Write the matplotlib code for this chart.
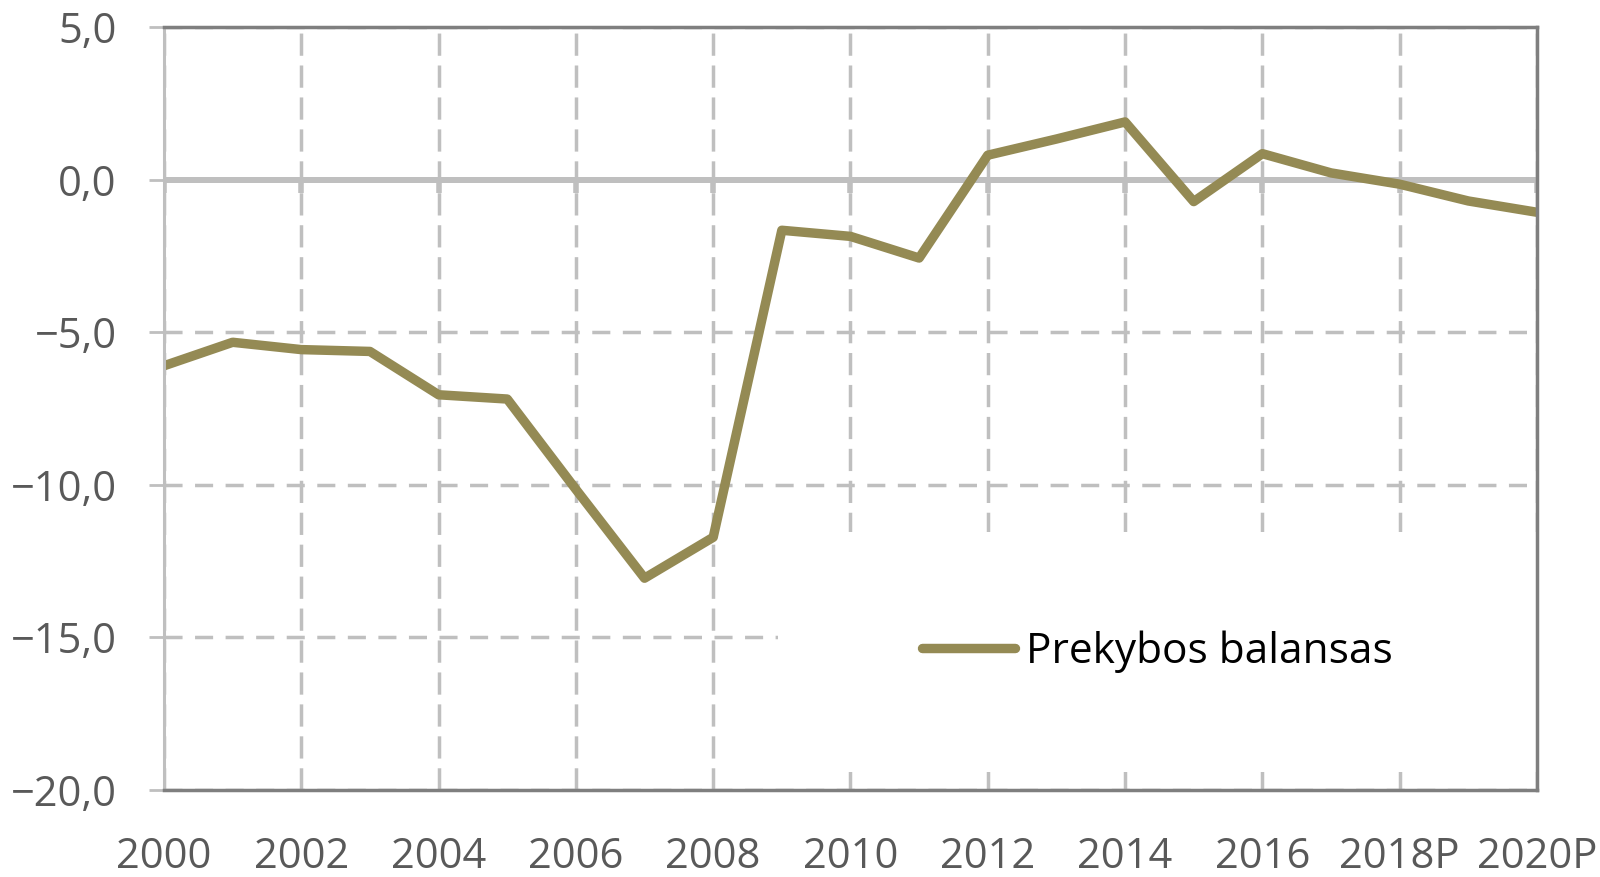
import matplotlib.pyplot as plt
from matplotlib.patches import Rectangle

years = ['2000', '2001', '2002', '2003', '2004', '2005', '2006', '2007', '2008', '2009', '2010',
         '2011', '2012', '2013', '2014', '2015', '2016', '2017', '2018P', '2019P', '2020P']
trade_balance = [-6.1, -5.33, -5.57, -5.63, -7.05, -7.19, -10.15, -13.06, -11.72, -1.66, -1.86,
                 -2.57, 0.80, 1.33, 1.89, -0.72, 0.85, 0.22, -0.15, -0.70, -1.07]
series_name = 'Prekybos balansas'
y_ticks = [-20, -15, -10, -5, 0, 5]

plt.rcParams['font.family'] = ['Open Sans', 'DejaVu Sans']
plt.rcParams['lines.scale_dashes'] = False

LINE = '#948A54'
GRID = '#BFBFBF'
BORDER = '#7F7F7F'
TEXT = '#595959'

fig = plt.figure(figsize=(16, 8.77), dpi=100)
ax = fig.add_axes([0.1025, 0.0992, 0.8581, 0.8700])

x = list(range(len(years)))
ax.plot(x, trade_balance, color=LINE, lw=6.8, solid_capstyle='round', zorder=4, label=series_name)

ax.set_xlim(0, len(years) - 1)
ax.set_ylim(y_ticks[0], y_ticks[-1])

# x ticks every two years, labels at the bottom
xt = x[::2]
ax.set_xticks(xt)
ax.set_xticklabels([years[i] for i in xt])
ax.tick_params(axis='x', length=0, pad=33, labelsize=30, labelcolor=TEXT)

ax.set_yticks(y_ticks)
ax.set_yticklabels([f'{v:.1f}'.replace('.', ',').replace('-', '\u2212') for v in y_ticks])
ax.tick_params(axis='y', length=11, width=2, color=GRID, pad=23, labelsize=30, labelcolor=TEXT)

# dashed grid
ax.grid(axis='x', color=GRID, lw=2.5, ls=(0, (16, 7)), zorder=1.5)
ax.grid(axis='y', color=GRID, lw=2.5, ls=(0, (13, 9)), zorder=1.5)

# category axis crossing at zero
ax.axhline(0, color=GRID, lw=4.3, zorder=3)
ax.vlines(xt, -0.45, 0, color=GRID, lw=4, zorder=3)

for side in ['top', 'right', 'bottom']:
    ax.spines[side].set_color(BORDER)
    ax.spines[side].set_linewidth(2.5)
ax.spines['left'].set_color(GRID)
ax.spines['left'].set_linewidth(2.2)
for sp in ax.spines.values():
    sp.set_zorder(5)

# legend area with white background
ax.add_patch(Rectangle((0.447, 0.024), 0.553, 0.314, transform=ax.transAxes,
                       facecolor='white', edgecolor='none', zorder=2))
ax.legend(loc='center', bbox_to_anchor=(0.447, 0.024, 0.553, 0.314), frameon=False,
          fontsize=30.5, handlelength=2.2, handletextpad=0.25, labelcolor='black')

fig.savefig('out.png', dpi=100)
